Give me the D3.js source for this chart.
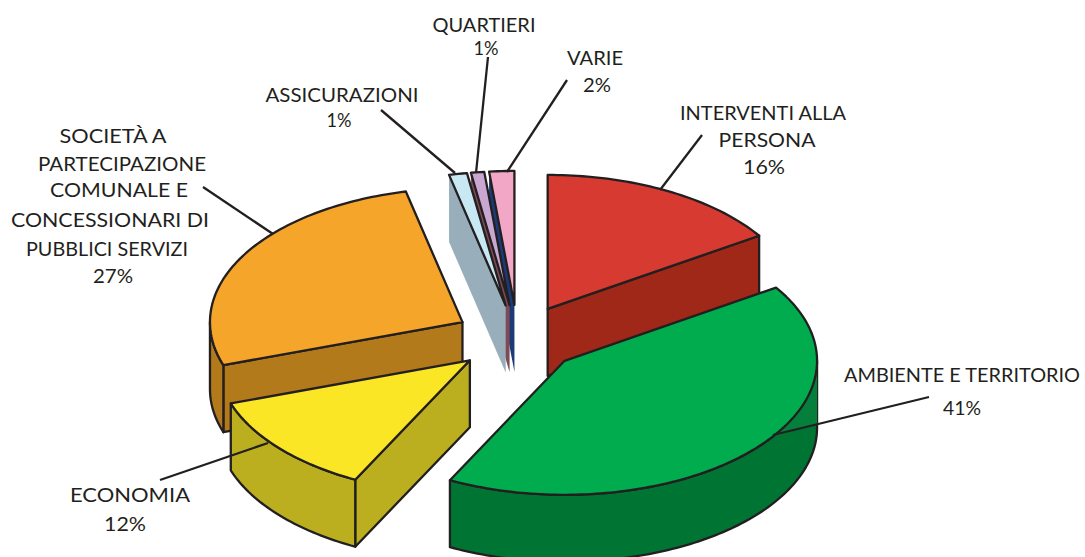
<!DOCTYPE html>
<html>
<head>
<meta charset="utf-8">
<script src="https://d3js.org/d3.v7.min.js"></script>
<style>
  html, body { margin: 0; padding: 0; background: #fff; }
  text { font-family: "Lato", sans-serif; font-size: 20px; fill: #231f20; }
</style>
</head>
<body>
<div id="chart"></div>
<script>
// values, the printed percents are rounded in the source
var categories = ["INTERVENTI ALLA PERSONA", "AMBIENTE E TERRITORIO", "ECONOMIA",
  "SOCIETÀ A PARTECIPAZIONE COMUNALE E CONCESSIONARI DI PUBBLICI SERVIZI",
  "ASSICURAZIONI", "QUARTIERI", "VARIE"]
var values = [15.8, 41.7, 12.29, 26.61, 1.15, 0.85, 1.6]
var percentLabels = ["16%", "41%", "12%", "27%", "1%", "1%", "2%"]

var topColors = ["#d73a30", "#00ac4e", "#fbe625", "#f5a52a", "#c8e8f3", "#c9a7d0", "#f1a7c5"]
var sideColors = ["#a02818", "#007433", "#bbae1f", "#b27a1a", "#98aeba", "#7d4a55", "#1d3a78"]

// label lines per category, the percent line is added after them
var labelLines = [
  ["INTERVENTI ALLA", "PERSONA"],
  ["AMBIENTE E TERRITORIO"],
  ["ECONOMIA"],
  ["SOCIETÀ A", "PARTECIPAZIONE", "COMUNALE E", "CONCESSIONARI DI", "PUBBLICI SERVIZI"],
  ["ASSICURAZIONI"],
  ["QUARTIERI"],
  ["VARIE"]
]
// centre x, baseline and width of every line, the source nudged them by hand
var labelX = [
  [763, 767, 764],
  [962, 962],
  [130, 125],
  [113, 122, 119, 110, 107, 113],
  [342, 339],
  [484, 486],
  [595, 597]
]
var labelY = [
  [120, 147, 174],
  [382, 415],
  [502, 531],
  [143, 171, 197, 227, 256, 283],
  [102, 127],
  [32, 55],
  [65, 92]
]
var labelW = [
  [166, 97, 42],
  [236, 38],
  [120, 42],
  [107, 168, 138, 198, 162, 40],
  [153, 25],
  [103, 25],
  [56, 28]
]
// leader lines, from label to slice
var leaders = [
  [[702, 135], [660, 190]],
  [[929, 397], [773, 435]],
  [[160, 480], [268, 443]],
  [[203, 187], [273, 234]],
  [[381, 110], [455, 173]],
  [[488, 57], [476, 173]],
  [[567, 80], [507, 172]]
]

var width = 1085, height = 557
var cx = 517.6, cy = 338.4, rx = 252.5, ry = 134
var depth = 67, explode = 0.25
var lineColor = "#231f20", lineWidth = 2.3

var svg = d3.select("#chart").append("svg")
  .attr("width", width)
  .attr("height", height)
  .style("display", "block")

var slices = d3.pie().sort(null).value(d => d)(values)
slices.forEach((d, i) => {
  var mid = (d.startAngle + d.endAngle) / 2
  d.i = i
  d.mid = mid
  d.ox = cx + explode * rx * Math.sin(mid)
  d.oy = cy - explode * ry * Math.cos(mid)
})

var xScale = d3.scaleLinear().domain([-1, 1]).range([-rx, rx])
var yScale = d3.scaleLinear().domain([-1, 1]).range([ry, -ry])

function rim(d, a, drop) {
  return [d.ox + xScale(Math.sin(a)), d.oy + yScale(Math.cos(a)) + (drop || 0)]
}
function arcPoints(d, a0, a1, drop) {
  var n = Math.max(2, Math.ceil((a1 - a0) / 0.02))
  return d3.range(n + 1).map(k => rim(d, a0 + (a1 - a0) * k / n, drop))
}
var lineGen = d3.line()
var shape = pts => lineGen(pts) + "Z"

// back slices first
var order = slices.slice().sort((a, b) => Math.cos(b.mid) - Math.cos(a.mid))

order.forEach(d => {
  var g = svg.append("g")
  var small = values[d.i] < 5
  var stroke = small ? "none" : lineColor
  var side = sideColors[d.i]
  var apex = [d.ox, d.oy]
  var apexLow = [d.ox, d.oy + depth]

  function wall(pts) {
    g.append("path").attr("d", shape(pts))
      .attr("fill", side).attr("stroke", stroke)
      .attr("stroke-width", lineWidth).attr("stroke-linejoin", "round")
  }

  // flat wall on the start edge
  if (d.startAngle > Math.PI && d.startAngle < 2 * Math.PI) {
    wall([apex, rim(d, d.startAngle), rim(d, d.startAngle, depth), apexLow])
  }
  // flat wall on the end edge
  if (d.endAngle > 0 && d.endAngle < Math.PI) {
    wall([apex, rim(d, d.endAngle), rim(d, d.endAngle, depth), apexLow])
  }
  // curved wall, only the front half shows
  var a0 = Math.max(d.startAngle, Math.PI / 2), a1 = Math.min(d.endAngle, 1.5 * Math.PI)
  if (a1 > a0) {
    wall(arcPoints(d, a0, a1).concat(arcPoints(d, a0, a1, depth).reverse()))
  }
  // the green wall is a shade lighter above its leader line
  if (d.i === 1) {
    var b1 = Math.PI - Math.asin((leaders[1][1][0] - d.ox) / rx)
    var yEdge = leaders[1][1][1] + (leaders[1][0][1] - leaders[1][1][1]) *
      (d.ox + rx - leaders[1][1][0]) / (leaders[1][0][0] - leaders[1][1][0])
    g.append("path")
      .attr("d", shape(arcPoints(d, Math.PI / 2, b1).concat([[d.ox + rx, yEdge]])))
      .attr("fill", "#057f3c")
  }
  // top face
  g.append("path").attr("d", shape([apex].concat(arcPoints(d, d.startAngle, d.endAngle))))
    .attr("fill", topColors[d.i]).attr("stroke", lineColor)
    .attr("stroke-width", lineWidth).attr("stroke-linejoin", "round")
})

svg.append("g").selectAll("line").data(leaders).join("line")
  .attr("x1", d => d[0][0]).attr("y1", d => d[0][1])
  .attr("x2", d => d[1][0]).attr("y2", d => d[1][1])
  .attr("stroke", lineColor).attr("stroke-width", lineWidth)

categories.forEach((c, i) => {
  var lines = labelLines[i].concat([percentLabels[i]])
  var block = svg.append("g")
  block.selectAll("text").data(lines).join("text")
    .attr("text-anchor", "middle")
    .attr("x", (d, k) => labelX[i][k])
    .attr("y", (d, k) => labelY[i][k])
    .attr("textLength", (d, k) => labelW[i][k])
    .attr("lengthAdjust", "spacingAndGlyphs")
    .text(d => d)
})
</script>
</body>
</html>
